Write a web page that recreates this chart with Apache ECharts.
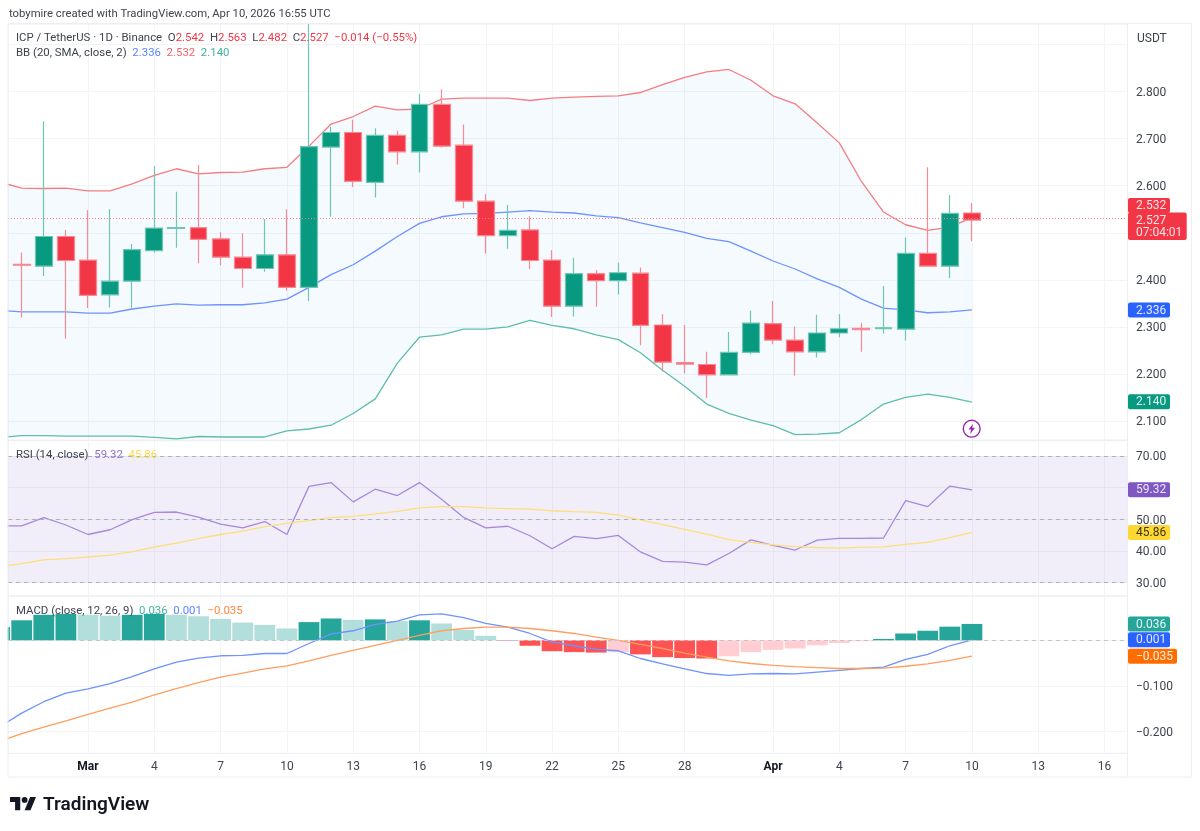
<!DOCTYPE html>
<html><head><meta charset="utf-8">
<style>html,body{margin:0;padding:0;background:#fff}#c{width:1200px;height:831px}</style>
<script src="https://cdn.jsdelivr.net/npm/echarts@6/dist/echarts.min.js"></script>
</head><body><div id="c"></div>
<script>
// ---- candles: Feb 26 .. Apr 10, one per day
const open = [2.433,2.429,2.492,2.442,2.368,2.397,2.462,2.509,2.511,2.487,2.448,2.424,2.453,2.384,2.682,2.713,2.607,2.707,2.672,2.773,2.686,2.567,2.494,2.506,2.442,2.344,2.413,2.398,2.414,2.304,2.224,2.220,2.198,2.246,2.307,2.272,2.247,2.287,2.297,2.296,2.295,2.456,2.429,2.542];
const close = [2.431,2.492,2.441,2.367,2.397,2.464,2.510,2.511,2.486,2.448,2.424,2.453,2.384,2.683,2.713,2.609,2.707,2.672,2.773,2.684,2.567,2.494,2.505,2.441,2.344,2.413,2.398,2.415,2.303,2.225,2.221,2.198,2.246,2.308,2.272,2.247,2.287,2.296,2.294,2.298,2.456,2.429,2.541,2.527];
const high = [2.458,2.737,2.506,2.548,2.550,2.476,2.642,2.587,2.644,2.501,2.499,2.529,2.550,2.943,2.725,2.740,2.722,2.717,2.795,2.805,2.730,2.582,2.559,2.535,2.463,2.447,2.421,2.436,2.426,2.327,2.304,2.247,2.289,2.334,2.355,2.301,2.326,2.327,2.309,2.387,2.490,2.639,2.580,2.563];
const low = [2.320,2.408,2.275,2.340,2.341,2.340,2.458,2.468,2.435,2.431,2.383,2.417,2.377,2.355,2.534,2.597,2.575,2.645,2.628,2.681,2.552,2.456,2.466,2.423,2.321,2.322,2.343,2.369,2.261,2.205,2.201,2.149,2.198,2.242,2.263,2.196,2.235,2.278,2.247,2.286,2.271,2.428,2.404,2.482];
// ---- indicators: Feb 25 .. Apr 10 (Feb 25 is just off the left edge)
const bbUpper = [2.608,2.595,2.594,2.595,2.589,2.589,2.604,2.622,2.636,2.625,2.628,2.629,2.636,2.639,2.684,2.731,2.747,2.769,2.761,2.763,2.784,2.786,2.786,2.786,2.781,2.786,2.788,2.790,2.791,2.798,2.815,2.830,2.842,2.847,2.824,2.791,2.774,2.733,2.691,2.609,2.544,2.517,2.505,2.512,2.532];
const bbBasis = [2.335,2.332,2.332,2.332,2.329,2.329,2.338,2.344,2.349,2.346,2.347,2.347,2.351,2.359,2.384,2.411,2.432,2.461,2.492,2.520,2.534,2.540,2.541,2.544,2.547,2.544,2.542,2.536,2.532,2.521,2.511,2.501,2.488,2.481,2.461,2.440,2.423,2.402,2.384,2.359,2.340,2.336,2.330,2.332,2.336];
const bbLower = [2.065,2.069,2.069,2.068,2.068,2.068,2.068,2.065,2.062,2.067,2.066,2.066,2.066,2.079,2.083,2.091,2.116,2.147,2.223,2.278,2.283,2.295,2.295,2.300,2.314,2.303,2.296,2.283,2.273,2.245,2.208,2.174,2.136,2.116,2.102,2.090,2.071,2.072,2.075,2.103,2.136,2.150,2.157,2.150,2.140];
const rsi = [47.9,47.9,50.5,48.2,45.2,46.7,49.9,52.2,52.3,50.7,48.5,47.3,49.3,45.2,60.4,61.6,55.5,59.5,57.5,61.6,56.3,50.6,47.3,47.8,44.8,40.7,44.6,43.9,44.9,39.7,36.7,36.5,35.6,39.2,43.5,41.8,40.3,43.4,44.0,44.0,44.1,55.9,54.0,60.5,59.32];
const rsiMa = [35.0,36.0,37.2,37.6,38.1,38.7,39.8,41.2,42.5,43.9,45.2,46.3,47.7,48.7,49.6,50.5,50.9,51.7,52.5,53.6,54.0,54.0,53.6,53.4,53.2,52.7,52.4,52.2,51.3,49.8,48.3,46.8,45.3,43.6,42.7,41.9,41.4,41.1,40.9,41.2,41.3,42.1,42.7,44.2,45.86];
const macd = [-0.190,-0.160,-0.135,-0.116,-0.107,-0.095,-0.080,-0.063,-0.048,-0.039,-0.034,-0.033,-0.029,-0.029,-0.007,0.014,0.021,0.035,0.042,0.056,0.058,0.050,0.037,0.029,0.015,-0.004,-0.012,-0.020,-0.023,-0.040,-0.052,-0.063,-0.073,-0.077,-0.074,-0.073,-0.074,-0.070,-0.066,-0.062,-0.059,-0.042,-0.031,-0.012,0.001];
const signal = [-0.222,-0.205,-0.191,-0.177,-0.163,-0.149,-0.136,-0.120,-0.106,-0.093,-0.081,-0.072,-0.063,-0.056,-0.045,-0.033,-0.022,-0.011,0.000,0.011,0.021,0.026,0.029,0.029,0.026,0.021,0.015,0.007,0.000,-0.009,-0.018,-0.028,-0.037,-0.045,-0.051,-0.055,-0.058,-0.060,-0.062,-0.062,-0.061,-0.057,-0.052,-0.044,-0.035];
const hist = [0.029,0.044,0.056,0.058,0.056,0.054,0.056,0.058,0.056,0.053,0.047,0.039,0.034,0.026,0.040,0.048,0.045,0.046,0.042,0.044,0.037,0.023,0.010,-0.001,-0.012,-0.024,-0.026,-0.027,-0.026,-0.031,-0.037,-0.039,-0.040,-0.035,-0.026,-0.021,-0.018,-0.011,-0.006,-0.002,0.003,0.015,0.021,0.030,0.036];
// ---- ticks (x = days since Mar 1)
const xTickDays = [0,3,6,9,12,15,18,21,24,27,31,34,37,40,43,46];
const xTickLabels = ['Mar','4','7','10','13','16','19','22','25','28','Apr','4','7','10','13','16'];
const priceTicks = [2.1,2.2,2.3,2.4,2.5,2.6,2.7,2.8,2.9];
const priceTickHidden = [2.5,2.9];
const rsiTicks = [30,40,50,60,70];
const macdTicks = [-0.2,-0.1];
const macdGrid = [-0.2,-0.1,0];

const UP='#089981',DOWN='#F23645',FONT='Roboto, sans-serif',GRID='#f3f4f6',FRAME='#eceef1',TXT='#3f4350';
const X_MIN=-3.62,X_MAX=47.04;
const indicatorPts = a => a.map((v,i)=>[i-4,v]);
const xa = (gridIndex,labels)=>({type:'value',gridIndex,min:X_MIN,max:X_MAX,
  axisLine:{show:false},
  axisTick:{show:false,customValues:xTickDays},
  splitLine:{show:true,lineStyle:{color:GRID,width:1}},
  axisLabel:labels?{show:true,customValues:xTickDays,margin:8,fontFamily:FONT,fontSize:12,color:TXT,hideOverlap:false,showMinLabel:true,showMaxLabel:true,
    formatter:v=>{const s=xTickLabels[xTickDays.indexOf(v)]||'';return /[A-Z]/.test(s)?'{b|'+s+'}':s;},
    rich:{b:{fontFamily:FONT,fontSize:12,fontWeight:700,color:'#131722'}}}:{show:false}});
const fmt = d => v => '{a|'+(v<0?'\u2212':'')+Math.abs(v).toFixed(d)+'}';
const ya = (gridIndex,min,max,ticks,labelTicks,dec)=>({type:'value',gridIndex,position:'right',min,max,scale:true,
  axisLine:{show:false},
  axisTick:{show:false,customValues:ticks},
  splitLine:{show:true,lineStyle:{color:GRID,width:1}},
  axisLabel:{show:true,customValues:labelTicks,inside:false,margin:8.5,fontFamily:FONT,fontSize:12,color:TXT,align:'left',formatter:fmt(dec),hideOverlap:false,showMinLabel:true,showMaxLabel:true,
    rich:{a:{fontFamily:FONT,fontSize:12,color:TXT,padding:[3,0,0,0]}}}});
const line=(name,xi,yi,data,color,z)=>({name,type:'line',xAxisIndex:xi,yAxisIndex:yi,data:indicatorPts(data),showSymbol:false,smooth:false,z:z||3,lineStyle:{color,width:1.3},itemStyle:{color},silent:true,animation:false});

// value tags on the right-hand scale
const tagSeries=(xi,yi,tags)=>({type:'custom',xAxisIndex:xi,yAxisIndex:yi,z:20,clip:false,silent:true,animation:false,
  data:tags.map((t,i)=>[X_MAX,t.v,i]),
  renderItem:(p,api)=>{
    const t=tags[api.value(2)], y=api.coord([X_MAX,api.value(1)])[1]+(t.dy||0);
    const h=t.h||15, top=y-7.5;
    const children=[{type:'rect',shape:{x:1128,y:top,width:t.w,height:h,r:2},style:{fill:t.bg}},
      {type:'text',style:{x:1136,y:y+0.6,text:t.text,fill:t.fg||'#fff',font:'12px '+FONT,textVerticalAlign:'middle',verticalAlign:'middle'}}];
    if(t.sub)children.push({type:'text',style:{x:1136,y:y+13,text:t.sub,fill:t.fg||'#fff',font:'12px '+FONT,textVerticalAlign:'middle',verticalAlign:'middle'}});
    return {type:'group',children};
  }});

const rich = parts => {const r={};parts.forEach((p,i)=>{r['p'+i]={fontFamily:FONT,fontSize:11.4,fill:p[1],color:p[1]};});
  return {text:parts.map((p,i)=>'{p'+i+'|'+p[0]+'}').join(''),rich:r};};
const legend=(x,y,parts)=>({type:'text',x,y,z:30,silent:true,style:Object.assign({textVerticalAlign:'middle',verticalAlign:'middle'},rich(parts))});
const hline=(x1,y1,x2,y2)=>({type:'line',silent:true,z:11,shape:{x1,y1,x2,y2},style:{stroke:FRAME,lineWidth:1}});
const LEG='#3f4350';

const option={animation:false,backgroundColor:'#fff',
 grid:[
  {left:8,top:24,width:1119.5,height:416,show:true,borderColor:FRAME,borderWidth:1,backgroundColor:'transparent'},
  {left:8,top:440.7,width:1119.5,height:155.3,show:true,borderColor:FRAME,borderWidth:1,backgroundColor:'transparent'},
  {left:8,top:596,width:1119.5,height:157.3,show:true,borderColor:FRAME,borderWidth:1,backgroundColor:'transparent'}],
 xAxis:[xa(0,false),xa(1,false),xa(2,true)],
 yAxis:[
  ya(0,2.0596,2.9436,priceTicks,priceTicks.filter(v=>!priceTickHidden.includes(v)),3),
  ya(1,25.78,74.82,rsiTicks,rsiTicks,2),
  ya(2,-0.2484,0.0974,macdGrid,macdTicks,3)],
 series:[
  // Bollinger band fill: one polygon between upper and lower, placed through the axes
  {type:'custom',xAxisIndex:0,yAxisIndex:0,z:1,clip:true,silent:true,animation:false,
   data:indicatorPts(bbUpper),
   renderItem:(p,api)=>{
     if(p.dataIndex!==0)return null;
     const pts=bbUpper.map((v,i)=>api.coord([i-4,v])).concat(bbLower.map((v,i)=>api.coord([i-4,v])).reverse());
     return {type:'polygon',shape:{points:pts},style:{fill:'rgba(33,150,243,0.05)'}};
   }},
  line('Upper',0,0,bbUpper,'#F77C80'),
  line('Basis',0,0,bbBasis,'#6E92FF'),
  line('Lower',0,0,bbLower,'#5FBDAB'),
  {type:'candlestick',xAxisIndex:0,yAxisIndex:0,z:4,barWidth:17.4,silent:true,
   data:open.map((o,i)=>[i-3,o,close[i],low[i],high[i]]),
   itemStyle:{color:UP,color0:DOWN,borderColor:'#6FC6B4',borderColor0:'#F88A94',borderColorDoji:'#6FC6B4',borderWidth:1.2},
   markLine:{silent:true,symbol:'none',label:{show:false},animation:false,lineStyle:{color:'#F4808A',type:[1,2],width:1},data:[{yAxis:2.527}]}},
  tagSeries(0,0,[
    {v:2.532,text:'2.532',bg:DOWN,w:42,dy:-12.3,fg:'#fde3e6'},
    {v:2.140,text:'2.140',bg:UP,w:42,dy:-0.4,fg:'#e3f5f1'},
    {v:2.336,text:'2.336',bg:'#2962FF',w:42,fg:'#e4ebff'},
    {v:2.527,text:'2.527',sub:'07:04:01',bg:DOWN,w:58.7,h:27.4,fg:'#fde3e6'}]),
  // RSI
  {type:'line',xAxisIndex:1,yAxisIndex:1,data:[],silent:true,z:1,
   markArea:{silent:true,itemStyle:{color:'rgba(126,87,194,0.1)'},data:[[{yAxis:70},{yAxis:30}]]},
   markLine:{silent:true,symbol:'none',label:{show:false},lineStyle:{color:'#adb0b8',type:[4,4],width:1.2},data:[{yAxis:70},{yAxis:50},{yAxis:30}]}},
  line('RSI',1,1,rsi,'#A489DE'),
  line('RSI MA',1,1,rsiMa,'#FBDF7A'),
  tagSeries(1,1,[
    {v:59.32,text:'59.32',bg:'#7E57C2',w:42,fg:'#ece6f8'},
    {v:45.86,text:'45.86',bg:'#FDD835',w:42,fg:'#3a3410'}]),
  // MACD
  {type:'bar',xAxisIndex:2,yAxisIndex:2,barWidth:20.8,z:2,silent:true,
   data:hist.map((v,i)=>{
     const rising=i===0||v>hist[i-1];
     const c=v>=0?(rising?'#26A69A':'#B2DFDB'):(rising?'#FFCDD2':'#FF5252');
     return {value:[i-4,v],itemStyle:{color:c}};}),
   markLine:{silent:true,symbol:'none',label:{show:false},lineStyle:{color:'#c3c6cc',type:[4,4],width:1},data:[{yAxis:0}]}},
  line('MACD',2,2,macd,'#6E92FF',4),
  line('Signal',2,2,signal,'#FF9E5E',4),
  tagSeries(2,2,[
    {v:0.036,text:'0.036',bg:'#26A69A',w:42,fg:'#e3f5f3'},
    {v:0.001,text:'0.001',bg:'#2962FF',w:42,fg:'#e4ebff'},
    {v:-0.035,text:'\u22120.035',bg:'#FF6D00',w:49,fg:'#fff1e5'}])
 ],
 graphic:[
  {type:'rect',z:10,silent:true,shape:{x:0,y:24,width:7.6,height:753},style:{fill:'#fff'}},
  hline(8,23.5,1192,23.5),hline(8,777,1192,777),hline(1191.5,23.5,1191.5,777),hline(8,23.5,8,777),hline(1127.5,23.5,1127.5,777),
  {type:'text',x:9,y:14.5,z:30,silent:true,style:{text:'tobymire created with TradingView.com, Apr 10, 2026 16:55 UTC',font:'11.3px '+FONT,fill:'#3f4350',textVerticalAlign:'middle',verticalAlign:'middle'}},
  legend(16,38.5,[['ICP / TetherUS \u00b7 1D \u00b7 Binance  O',LEG],['2.542  ',DOWN],['H',LEG],['2.563  ',DOWN],['L',LEG],['2.482  ',DOWN],['C',LEG],['2.527  \u22120.014 (\u22120.55%)',DOWN]]),
  legend(16,53.5,[['BB (20, SMA, close, 2)  ',LEG],['2.336  ','#5B84FF'],['2.532  ','#F4636E'],['2.140','#3FB5A0']]),
  legend(16,455.5,[['RSI (14, close)  ',LEG],['59.32  ','#9273D3'],['45.86','#FBD750']]),
  legend(16,611.5,[['MACD (close, 12, 26, 9)  ',LEG],['0.036  ','#3FB5A0'],['0.001  ','#5B84FF'],['\u22120.035','#FF8A3C']]),
  {type:'text',x:1137,y:38.5,z:30,silent:true,style:{text:'USDT',font:'12px '+FONT,fill:'#3f4350',textVerticalAlign:'middle',verticalAlign:'middle'}},
  // alert marker
  {type:'circle',z:30,silent:true,shape:{cx:971.7,cy:428.7,r:8.4},style:{fill:'#fff',stroke:'#9C27B0',lineWidth:1.4}},
  {type:'polygon',z:31,silent:true,shape:{points:[[973,423.7],[968.5,429.5],[971,429.5],[970.2,434],[975,427.8],[972.3,427.8]]},style:{fill:'#9C27B0'}},
  // logo
  {type:'polygon',z:30,silent:true,shape:{points:[[20.25,810.2],[15.1,810.2],[15.1,802.1],[10,802.1],[10,797],[20.25,797]]},style:{fill:'#131722'}},
  {type:'polygon',z:30,silent:true,shape:{points:[[30.5,810.2],[24.6,810.2],[30.1,797],[36,797]]},style:{fill:'#131722'}},
  {type:'circle',z:30,silent:true,shape:{cx:24.6,cy:799.9,r:2.9},style:{fill:'#131722'}},
  {type:'text',x:43,y:805,z:30,silent:true,style:{text:'TradingView',font:'600 19px '+FONT,fill:'#131722',textVerticalAlign:'middle',verticalAlign:'middle'}}
 ]};
const chart=echarts.init(document.getElementById('c'),null,{renderer:'canvas'});
chart.setOption(option);
</script></body></html>
